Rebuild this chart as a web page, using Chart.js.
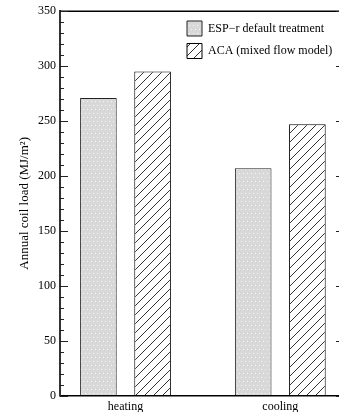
<!DOCTYPE html>
<html>
<head>
<meta charset="utf-8">
<script src="https://cdn.jsdelivr.net/npm/chart.js@4.4.0/dist/chart.umd.min.js"></script>
<style>
  html, body { margin: 0; padding: 0; overflow: hidden; background: #fff; }
  #wrap { width: 339px; height: 412px; overflow: hidden; }
</style>
</head>
<body>
<div id="wrap"><canvas id="c" width="350" height="412" style="width:350px;height:412px"></canvas></div>
<script>
const categories = ['heating', 'cooling'];
const espValues = [271, 207];
const acaValues = [295, 247];
const seriesNames = ['ESP\u2212r default treatment', 'ACA (mixed flow model)'];
const yLabels = [0, 50, 100, 150, 200, 250, 300, 350];

function dotPattern() {
  const c = document.createElement('canvas');
  c.width = 8; c.height = 8;
  const g = c.getContext('2d');
  g.fillStyle = '#d8d8d8';
  g.fillRect(0, 0, 8, 8);
  g.fillStyle = '#f6f6f6';
  [[1, 1], [5, 1], [3, 5], [7, 5]].forEach(([x, y]) => g.fillRect(x, y, 1, 1));
  return g.createPattern(c, 'repeat');
}

function hatchPattern() {
  const s = 9;
  const c = document.createElement('canvas');
  c.width = s; c.height = s;
  const g = c.getContext('2d');
  g.fillStyle = '#fff';
  g.fillRect(0, 0, s, s);
  g.strokeStyle = '#333';
  g.lineWidth = 1;
  g.beginPath();
  g.moveTo(0, s); g.lineTo(s, 0);
  g.moveTo(-1, 1); g.lineTo(1, -1);
  g.moveTo(s - 1, s + 1); g.lineTo(s + 1, s - 1);
  g.stroke();
  return g.createPattern(c, 'repeat');
}

Chart.defaults.font.family = "'Liberation Serif', 'Times New Roman', serif";
Chart.defaults.font.size = 12;
Chart.defaults.color = '#000';

// box frame + inward ticks, legend placed in the top right corner
const frame = {
  id: 'frame',
  afterLayout(chart) {
    chart.legend.left = 179.5;
    chart.legend.top = 13.5;
  },
  afterDraw(chart) {
    const { ctx, chartArea: a, scales: { y } } = chart;
    ctx.save();
    ctx.strokeStyle = '#000';
    ctx.lineWidth = 1.5;
    ctx.beginPath();
    ctx.moveTo(a.left, a.top);
    ctx.lineTo(a.right, a.top);
    ctx.lineTo(a.right, a.bottom);
    ctx.stroke();
    ctx.lineWidth = 1;
    ctx.strokeStyle = '#222';
    y.ticks.forEach(t => {
      const py = Math.round(y.getPixelForValue(t.value)) + 0.5;
      const major = yLabels.includes(t.value);
      ctx.beginPath();
      ctx.moveTo(a.left, py);
      ctx.lineTo(a.left + (major ? 8 : 4), py);
      if (major) { ctx.moveTo(a.right, py); ctx.lineTo(a.right - 8, py); }
      ctx.stroke();
    });
    ctx.restore();
  }
};

new Chart(document.getElementById('c'), {
  type: 'bar',
  data: {
    datasets: [
      {
        label: seriesNames[0],
        data: espValues.map((v, i) => ({ x: i, y: v })),
        backgroundColor: dotPattern(),
        borderColor: '#222',
        borderWidth: 1
      },
      {
        label: seriesNames[1],
        data: acaValues.map((v, i) => ({ x: i, y: v })),
        backgroundColor: hatchPattern(),
        borderColor: '#000',
        borderWidth: 1
      }
    ]
  },
  options: {
    responsive: false,
    animation: false,
    categoryPercentage: 0.70,
    barPercentage: 0.676,
    layout: { padding: { top: 9.5, right: 6, left: 0, bottom: 0 } },
    plugins: {
      legend: {
        position: 'chartArea',
        align: 'start',
        labels: { boxWidth: 15, boxHeight: 15, padding: 7.5, color: '#000', font: { size: 12 } }
      },
      tooltip: { enabled: false }
    },
    scales: {
      x: {
        type: 'linear',
        offset: false,
        min: -0.4231,
        max: 1.4115,
        afterBuildTicks: s => { s.ticks = categories.map((_, i) => ({ value: i })); },
        ticks: { callback: v => categories[v], padding: 4, autoSkip: false, maxRotation: 0 },
        grid: { drawOnChartArea: false, drawTicks: false },
        border: { color: '#000', width: 1.5 },
        afterFit: s => { s.height = 16.5; }
      },
      y: {
        min: 0,
        max: 350,
        ticks: {
          stepSize: 10,
          autoSkip: false,
          padding: 4,
          callback: v => yLabels.includes(v) ? String(v) : ''
        },
        grid: { drawOnChartArea: false, drawTicks: false },
        border: { color: '#333', width: 2 },
        title: {
          display: true,
          text: 'Annual coil load (MJ/m\u00B2)',
          font: { size: 13 },
          padding: { top: 17, bottom: 0 }
        },
        afterFit: s => { s.width = 60; }
      }
    }
  },
  plugins: [frame]
});
</script>
</body>
</html>
